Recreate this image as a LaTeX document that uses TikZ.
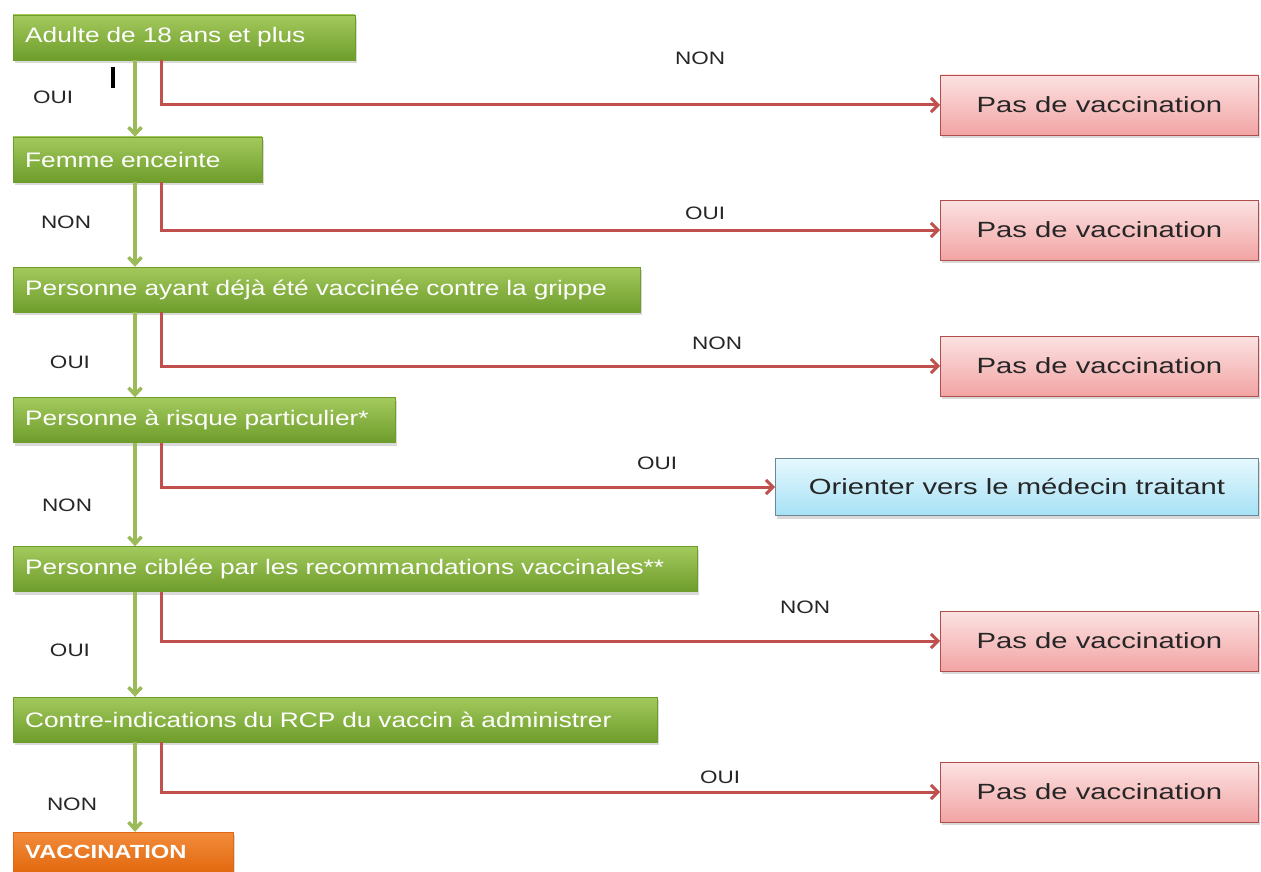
\documentclass[tikz,border=0pt]{standalone}
\usepackage{fontspec}
\setmainfont{Liberation Sans}
\newfontfamily\qfont[FakeStretch=1.25]{Liberation Sans}
\newfontfamily\pfont[FakeStretch=1.33]{Liberation Sans}
\usetikzlibrary{arrows.meta,shadows}
\definecolor{qtop}{HTML}{A3C95C}
\definecolor{qbot}{HTML}{6E9D2C}
\definecolor{otop}{HTML}{F28C3C}
\definecolor{obot}{HTML}{E2690F}
\definecolor{ptop}{HTML}{FCE2E2}
\definecolor{pbot}{HTML}{F2A4A4}
\definecolor{pedge}{HTML}{B04E4E}
\definecolor{btop}{HTML}{E6F8FE}
\definecolor{bbot}{HTML}{A6E1F5}
\definecolor{bedge}{HTML}{6C8896}
\definecolor{rline}{HTML}{C0504D}
\definecolor{gline}{HTML}{9BBB59}
\tikzset{
  qbox/.style={anchor=west,minimum height=45pt,inner xsep=12pt,inner ysep=0pt,align=left,
    top color=qtop,bottom color=qbot,draw=qbot,line width=0.4pt,text=white,
    font=\qfont\fontsize{21}{24}\selectfont,
    drop shadow={shadow xshift=1.5pt,shadow yshift=-3pt,opacity=0.3}},
  vbox/.style={qbox,minimum height=40pt,top color=otop,bottom color=obot,draw=obot,
    font=\qfont\bfseries\fontsize{19}{22}\selectfont},
  nobox/.style={anchor=west,minimum width=318pt,minimum height=60pt,inner sep=0pt,
    top color=ptop,bottom color=pbot,draw=pedge,line width=0.8pt,text=black!85,
    font=\pfont\fontsize{22}{26}\selectfont,
    drop shadow={shadow xshift=1.5pt,shadow yshift=-3pt,opacity=0.3}},
  mdbox/.style={nobox,minimum width=483pt,minimum height=57pt,
    top color=btop,bottom color=bbot,draw=bedge},
  lab/.style={font=\qfont\fontsize{18}{20}\selectfont,text=black!85},
  garr/.style={gline,line width=3.5pt,-{Straight Barb[length=7pt,width=13pt]}},
  rarr/.style={rline,line width=3pt,-{Straight Barb[length=7pt,width=14pt]}},
}

\begin{document}
\begin{tikzpicture}[x=1pt,y=-1pt]
  \useasboundingbox (0,0) rectangle (1261,872);
  % questions on the left, answers to the right
  \node[qbox,text width=318pt] (q1) at (13,37.5)  {Adulte de 18 ans et plus};
  \node[qbox,text width=225pt] (q2) at (13,159.5) {Femme enceinte};
  \node[qbox,text width=603pt] (q3) at (13,289.5) {Personne ayant déjà été vaccinée contre la grippe};
  \node[qbox,text width=358pt] (q4) at (13,420)   {Personne à risque particulier*};
  \node[qbox,text width=660pt] (q5) at (13,569)   {Personne ciblée par les recommandations vaccinales**};
  \node[qbox,text width=620pt] (q6) at (13,719.5) {Contre-indications du RCP du vaccin à administrer};
  \node[vbox,text width=196pt] (vac) at (13,852)  {VACCINATION};

  \node[nobox] (p1) at (940,105) {Pas de vaccination};
  \node[nobox] (p2) at (940,230) {Pas de vaccination};
  \node[nobox] (p3) at (940,366) {Pas de vaccination};
  \node[mdbox] (md) at (775,487) {Orienter vers le médecin traitant};
  \node[nobox] (p5) at (940,641) {Pas de vaccination};
  \node[nobox] (p6) at (940,792) {Pas de vaccination};

  \coordinate (gsp) at (135,0);
  \coordinate (rsp) at (161,0);

  \foreach \a/\b in {q1/q2,q2/q3,q3/q4,q4/q5,q5/q6,q6/vac}
    \draw[garr] (\a.south -| gsp) -- (\b.north -| gsp);

  \draw[rarr] (q1.south -| rsp) |- (p1.west);
  \draw[rarr] (q2.south -| rsp) |- (p2.west);
  \draw[rarr] (q3.south -| rsp) |- (p3.west);
  \draw[rarr] (q4.south -| rsp) |- (md.west);
  \draw[rarr] (q5.south -| rsp) |- (p5.west);
  \draw[rarr] (q6.south -| rsp) |- (p6.west);

  \draw[line width=3.5pt] (113,67) -- (113,88);

  \node[lab] (y1) at (53,97)  {OUI};
  \node[lab] (n2) at (66,222) {NON};
  \node[lab] (y3) at (70,362) {OUI};
  \node[lab] (n4) at (67,505) {NON};
  \node[lab] (y5) at (70,650) {OUI};
  \node[lab] (n6) at (72,804) {NON};

  \node[lab] (n1) at (700,58)  {NON};
  \node[lab] (y2) at (705,213) {OUI};
  \node[lab] (n3) at (717,343) {NON};
  \node[lab] (y4) at (657,463) {OUI};
  \node[lab] (n5) at (805,607) {NON};
  \node[lab] (y6) at (720,777) {OUI};
\end{tikzpicture}
\end{document}
